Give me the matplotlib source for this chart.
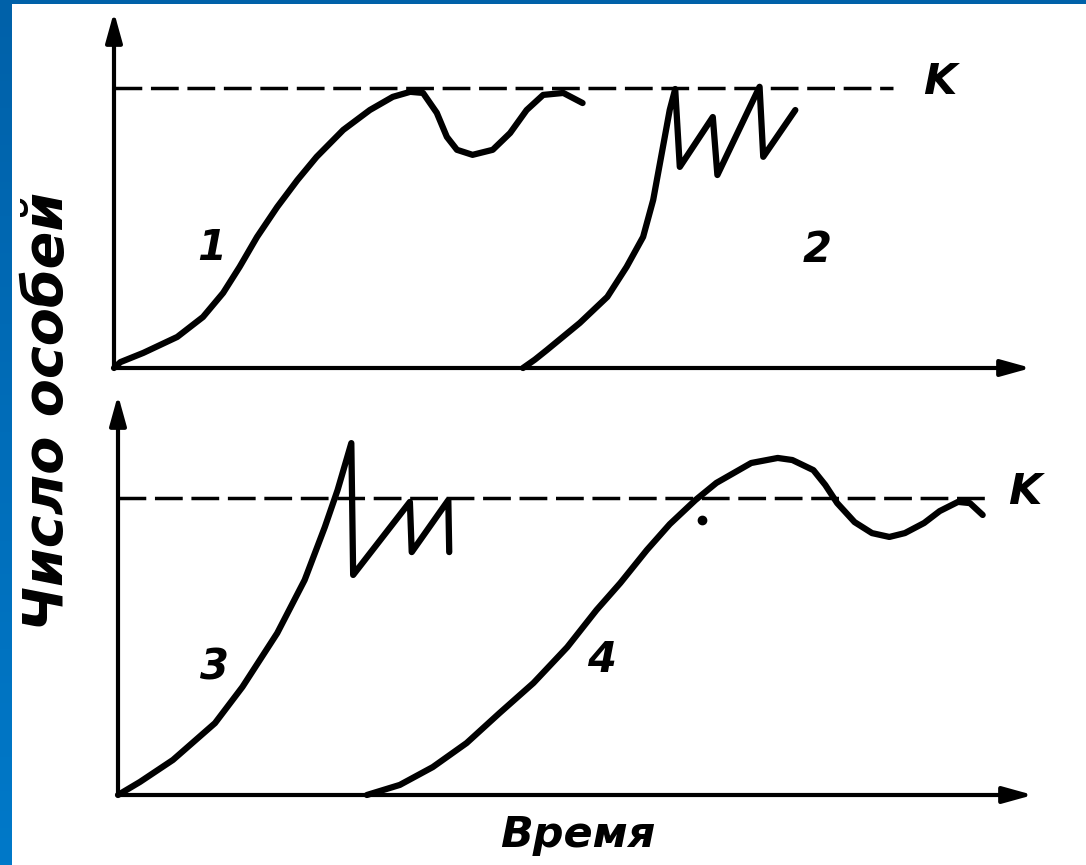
# Libraries ----------------------------------------

import numpy as np
import matplotlib
matplotlib.use("Agg")
import matplotlib.pyplot as plt
from matplotlib.colors import LinearSegmentedColormap

# Data ----------------------------------------
# time in arbitrary units (0..100 along each axis), number of individuals with K = 100

K = 100

curve1_t = [0, 0.7, 3.2, 6.9, 9.7, 11.9, 13.7, 15.6, 17.8, 20.0, 22.1, 25.0, 27.9, 30.4,
            32.3, 33.7, 35.2, 36.3, 37.4, 39.1, 41.3, 43.2, 45.0, 46.8, 49.0, 51.1]
curve1_n = [0, 2.1, 5.4, 11.1, 18.2, 26.8, 36.1, 46.8, 57.5, 67.1, 75.4, 85.0, 92.1, 96.8,
            98.6, 98.2, 91.1, 82.5, 77.9, 76.1, 77.9, 83.9, 92.1, 97.5, 98.2, 94.6]

curve2_t = [44.6, 45.9, 47.2, 50.8, 53.8, 55.9, 57.7, 58.8, 59.9, 60.6, 61.2, 61.7, 65.3,
            65.8, 70.4, 70.8, 74.3]
curve2_n = [0, 3.0, 6.4, 16.1, 25.4, 36.1, 46.8, 60.0, 79.6, 92.1, 99.6, 71.8, 89.6,
            68.9, 100.4, 75.4, 92.1]

curve3_t = [0, 2.4, 6.0, 10.6, 13.6, 17.4, 20.4, 22.6, 24.0, 25.5, 25.7, 31.9, 32.1, 36.1, 36.2]
curve3_n = [0, 4.4, 11.8, 24.2, 36.4, 54.5, 72.4, 90.2, 102.7, 118.5, 74.1, 98.7, 81.8, 99.3, 81.8]

curve4_t = [27.2, 30.8, 34.4, 38.1, 41.7, 45.4, 49.1, 52.3, 54.9, 57.8, 60.3, 63.1, 65.4,
            69.2, 72.1, 73.7, 76.0, 77.3, 78.6, 80.5, 82.4, 84.3, 86.0, 88.1, 89.8, 91.8,
            93.1, 94.5]
curve4_n = [0, 3.4, 9.4, 17.5, 27.6, 37.7, 49.8, 62.3, 71.4, 82.5, 91.2, 99.3, 105.1,
            111.8, 113.5, 112.8, 109.4, 104.4, 98.3, 91.9, 88.2, 86.9, 88.2, 91.6, 95.6, 98.7,
            98.3, 94.3]

dot_t, dot_n = 63.8, 92.6

top_labels = [("1", 10.7, 42.8), ("2", 76.7, 42.1)]
bottom_labels = [("3", 10.6, 43.1), ("4", 52.9, 45.5)]

# Figure ----------------------------------------

W, H = 1086, 865
fig = plt.figure(figsize=(W / 100, H / 100), dpi=100)
fig.patch.set_facecolor("white")

text_kw = dict(fontfamily="DejaVu Sans", fontweight="bold", fontstyle="italic", color="black")


def px_axes(left, top, right, bottom):
    return fig.add_axes([left / W, 1 - bottom / H, (right - left) / W, (bottom - top) / H])


def draw_frame(ax, ymax, k_end, k_label_x):
    ax.set_xlim(0, 100)
    ax.set_ylim(0, ymax)
    ax.axis("off")
    arrow = dict(arrowstyle="-|>,head_length=0.9,head_width=0.25", lw=3, color="black",
                 mutation_scale=20, shrinkA=0, shrinkB=0)
    ax.annotate("", xy=(1, 0), xytext=(0, 0), xycoords="axes fraction", arrowprops=arrow)
    ax.annotate("", xy=(0, 1), xytext=(0, 0), xycoords="axes fraction", arrowprops=arrow)
    ax.plot([0, k_end], [K, K], color="black", lw=2.5, ls=(0, (8, 2.5)), clip_on=False)
    ax.text(k_label_x, K + 2, "K", fontsize=31, ha="center", va="center", **text_kw)


def draw_curve(ax, t, n):
    ax.plot(t, n, color="black", lw=4.5, solid_joinstyle="round",
            solid_capstyle="round", clip_on=False)


# top panel
ax1 = px_axes(114, 12, 1031, 368)
draw_frame(ax1, 127.1, 85, 90.1)
draw_curve(ax1, curve1_t, curve1_n)
draw_curve(ax1, curve2_t, curve2_n)
for s, x, y in top_labels:
    ax1.text(x, y, s, fontsize=30, ha="center", va="center", **text_kw)

# bottom panel
ax2 = px_axes(118, 395, 1033, 795)
draw_frame(ax2, 134.7, 95.6, 99.1)
draw_curve(ax2, curve3_t, curve3_n)
draw_curve(ax2, curve4_t, curve4_n)
ax2.plot([dot_t], [dot_n], "o", color="black", markersize=6, clip_on=False)
for s, x, y in bottom_labels:
    ax2.text(x, y, s, fontsize=30, ha="center", va="center", **text_kw)

# axis titles
fig.text(48 / W, 1 - 411 / H, "Число особей", rotation=90, fontsize=40,
         ha="center", va="center", **text_kw)
fig.text(578 / W, 1 - 835 / H, "Время", fontsize=31, ha="center", va="center", **text_kw)

# blue slide border (left and top)
gax = fig.add_axes([0, 0, 12 / W, 1])
gax.imshow(np.linspace(0, 1, 256)[:, None], aspect="auto",
           cmap=LinearSegmentedColormap.from_list("frame", ["#0061A9", "#0079C9"]))
gax.axis("off")
fig.add_artist(plt.Rectangle((0, 1 - 4 / H), 1, 4 / H, transform=fig.transFigure,
                             color="#0061A9", lw=0))

# Save ----------------------------------------

fig.savefig("out.png", dpi=100)
